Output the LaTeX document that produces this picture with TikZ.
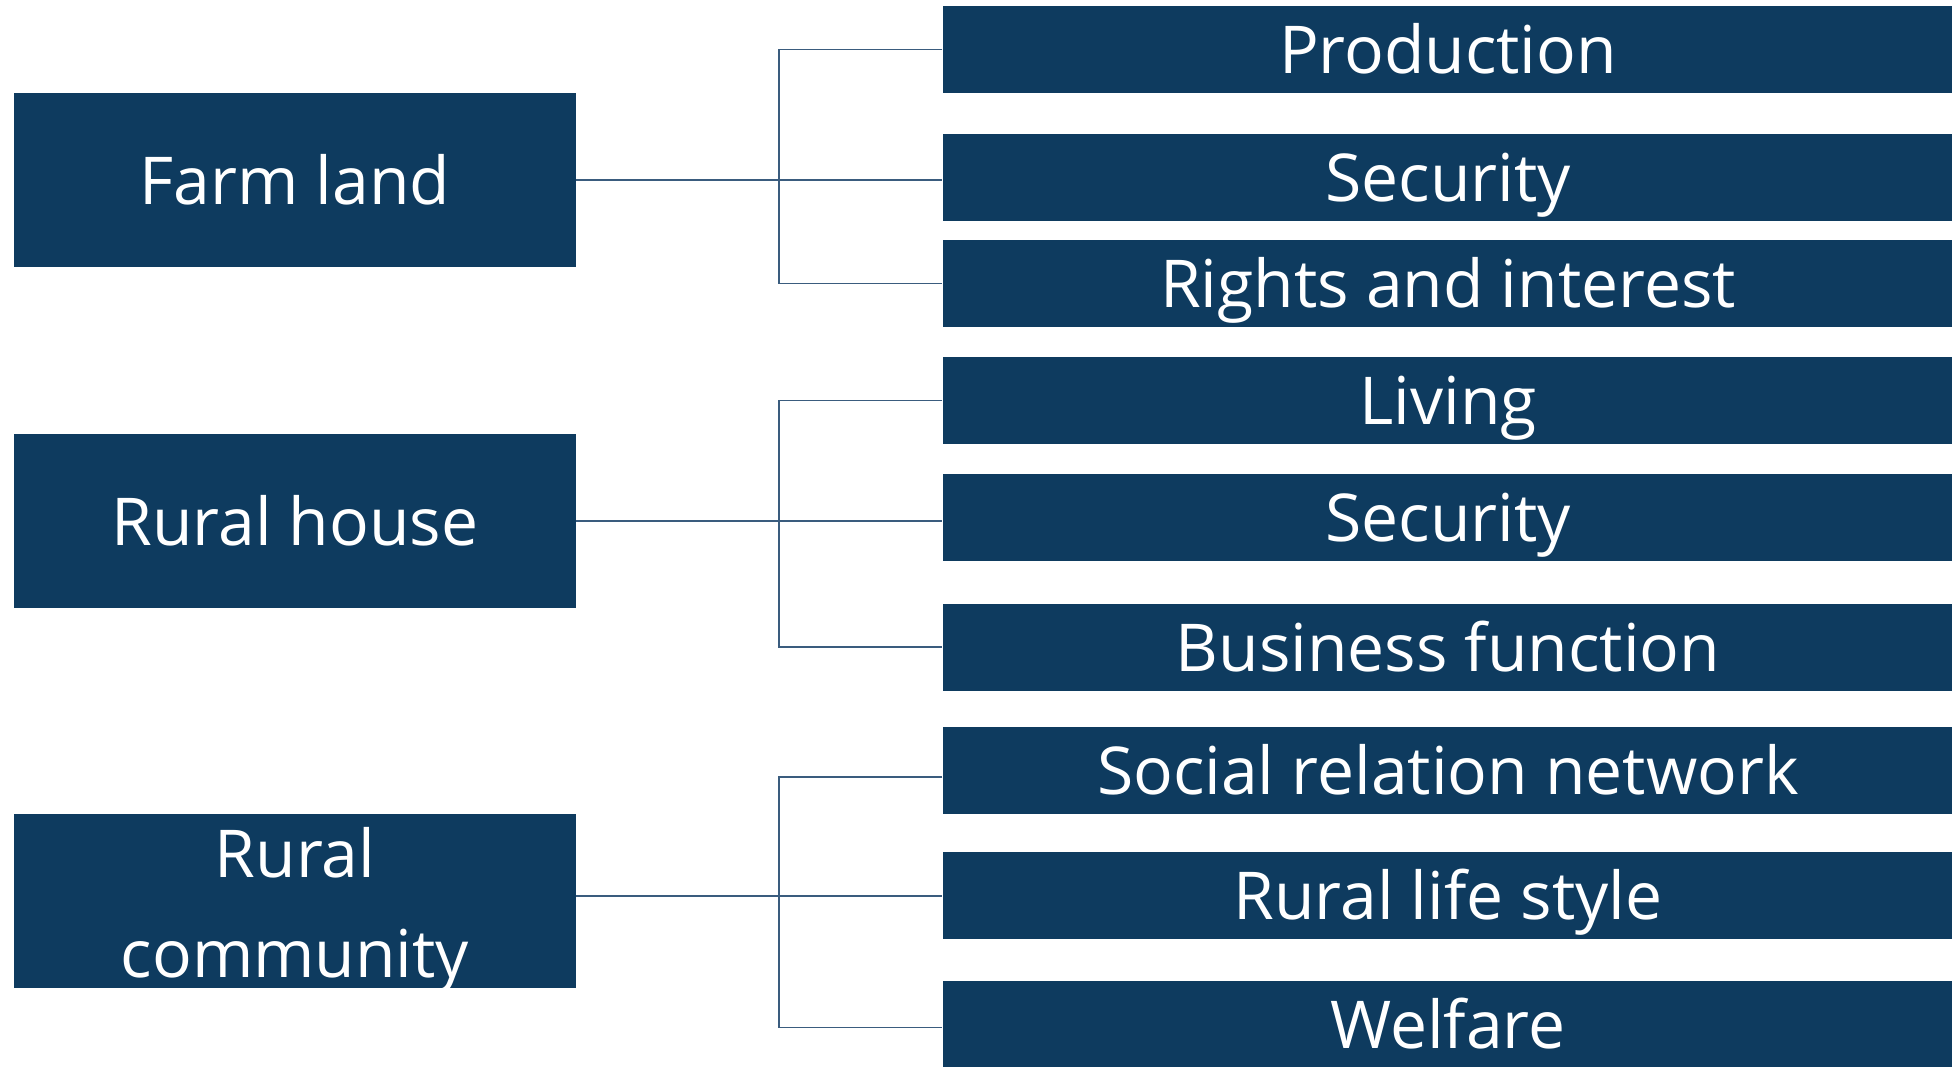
\documentclass[tikz,border=0pt]{standalone}
\usepackage{fontspec}
\setmainfont{Open Sans}
\definecolor{boxblue}{HTML}{0E3B5F}
\definecolor{linkblue}{HTML}{3A5C7E}
\begin{document}
\begin{tikzpicture}[x=1pt,y=-1pt,
  box/.style={rectangle, fill=boxblue, draw=none, inner sep=0pt,
    text=white, font=\fontsize{66}{100}\selectfont,
    text height=48pt, text depth=0pt},
  rootbox/.style={box, minimum width=562pt, minimum height=174pt},
  leafbox/.style={box, minimum width=1011pt, minimum height=87pt},
  lbl/.style={text=white, inner sep=0pt, font=\fontsize{66}{100}\selectfont},
  link/.style={draw=linkblue, line width=1.6pt}]
\useasboundingbox (0,0) rectangle (1952,1066);

% root boxes
\node[rootbox] (farm)  at (295,180) {Farm land};
\node[rootbox] (house) at (295,521) {Rural house};
\node[rootbox] (comm)  at (295,901) {};
\node[lbl, anchor=base] (comm1) at ([yshift=24pt]comm.center) {Rural};
\node[lbl, anchor=base] (comm2) at ([yshift=-76pt]comm.center) {community};

% leaf boxes
\node[leafbox] (prod)  at (1448,49.5)  {Production};
\node[leafbox] (secA)  at (1448,177.5) {Security};
\node[leafbox] (right) at (1448,283.5) {Rights and interest};
\node[leafbox] (live)  at (1448,400.5) {Living};
\node[leafbox] (secB)  at (1448,517.5) {Security};
\node[leafbox] (busi)  at (1448,647)   {Business function};
\node[leafbox] (soc)   at (1448,770)   {Social relation network};
\node[leafbox] (life)  at (1448,895.5) {Rural life style};
\node[leafbox] (welf)  at (1448,1024.5){Welfare};

% spine of each bracket
\coordinate (sp) at (779,0);

% farm land group
\draw[link] (farm.east) -- (secA.west |- farm.east);
\draw[link] (prod.west) -- (prod.west -| sp) -- (right.west -| sp) -- (right.west);

% rural house group
\draw[link] (house.east) -- (secB.west |- house.east);
\draw[link] (live.west) -- (live.west -| sp) -- (busi.west -| sp) -- (busi.west);

% rural community group
\draw[link] ([yshift=5pt]comm.east) -- ([yshift=5pt]comm.east -| life.west);
\draw[link] ([yshift=-7pt]soc.west) -- ([yshift=-7pt]soc.west -| sp) -- ([yshift=-3pt]welf.west -| sp) -- ([yshift=-3pt]welf.west);
\end{tikzpicture}
\end{document}
